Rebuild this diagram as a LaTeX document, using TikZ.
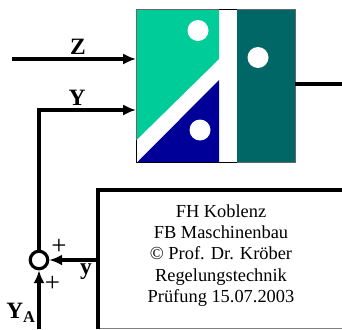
\documentclass[tikz,border=0pt]{standalone}
\usepackage{fontspec}
\setmainfont{Liberation Serif}
\usetikzlibrary{arrows.meta}
\definecolor{logogreen}{RGB}{0,204,153}
\definecolor{logoblue}{RGB}{0,0,153}
\definecolor{logoteal}{RGB}{0,102,102}
\tikzset{
  signal/.style={line width=2.7pt},
  flow/.style={signal,-{Latex[length=11pt,width=9.5pt]}},
  lbl/.style={font=\fontsize{20}{20}\selectfont\bfseries,inner sep=0pt},
  sign/.style={font=\fontsize{23}{23}\selectfont,inner sep=0pt},
}
\begin{document}
\begin{tikzpicture}[x=0.03cm,y=-0.03cm]
    \useasboundingbox (0,0) rectangle (342,329);

    \node[draw=black,line width=0.8pt,minimum width=158.5*0.03cm,minimum height=152.5*0.03cm,inner sep=0pt] (block) at (215.75,85.75) {};

    \fill[logogreen] (136.5,9.5) -- (219,9.5) -- (219,59) -- (136.5,140) -- cycle;
    \fill[logoblue] (219,80) -- (219,162) -- (137.5,162) -- cycle;
    \fill[logoteal] (237,9.5) rectangle (295,162);
    \draw[black!60,line width=0.6pt] (136.5,140) -- (136.5,9.5) -- (219,9.5);
    \draw[black!60,line width=0.6pt] (237,9.5) -- (295,9.5) -- (295,162) -- (237,162);

    \fill[white] (198,30.5) circle (10.5);
    \fill[white] (258,57.5) circle (10.5);
    \fill[white] (200,130) circle (10.5);

    \node[draw,circle,signal,fill=white,minimum size=17.5*0.03cm,inner sep=0pt] (sum) at (39,260) {};
    \node[align=center,font=\fontsize{15.7}{18.2}\selectfont] (info) at (221,255.5) {FH Koblenz\\FB Maschinenbau\\© Prof. Dr. Kröber\\Regelungstechnik\\Prüfung 15.07.2003};

    \coordinate (zin) at (12,59);
    \coordinate (zout) at (block.west |- zin);
    \coordinate (ybend) at (39,110);
    \coordinate (yout) at (block.west |- ybend);
    \coordinate (yain) at (39,329);
    \coordinate (out) at (block.east |- 0,84);
    \coordinate (outend) at (342,84);
    \coordinate (boxbl) at (98,329);
    \coordinate (boxbr) at (342,328);
    \coordinate (boxtl) at (98,190);
    \coordinate (boxtr) at (342,190);
    \coordinate (boxy) at (98,260);

    \draw[flow] (zin) -- (zout);
    \draw[flow] (sum) -- (ybend) -- (yout);
    \draw[flow] (yain) -- (sum);
    \draw[flow] (boxy) -- (sum);
    \draw[signal] (out) -- (outend);
    \draw[black!50,line width=0.6pt] (boxbl |- boxbr) -- (boxbr);
    \draw[signal] (boxbl) -- (boxtl) -- (boxtr);

    \node[lbl] (zlabel) at (78,47) {Z};
    \node[lbl] (ylabel) at (77,98) {Y};
    \node[lbl] (yslabel) at (86,272) {y};
    \node[lbl] (yalabel) at (21,313) {Y\textsubscript{A}};
    \node[sign] (plustop) at (59,247) {+};
    \node[sign] (plusbot) at (52.5,284) {+};
\end{tikzpicture}
\end{document}
